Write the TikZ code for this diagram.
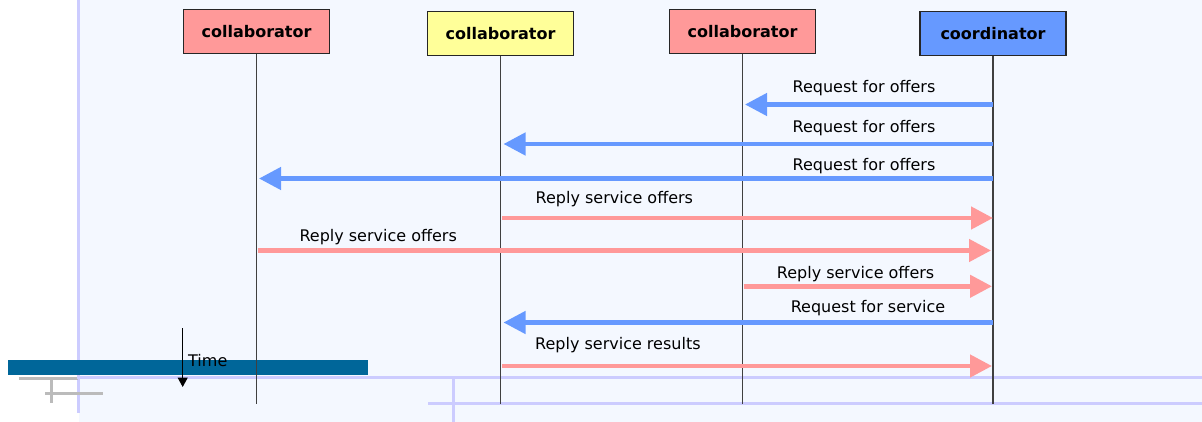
\documentclass[tikz,border=0pt]{standalone}
\usepackage{fontspec}
\setmainfont{DejaVu Sans}
\usepackage{tikz}
\usetikzlibrary{arrows.meta}
\usepackage{xcolor}
\definecolor{rouge}{HTML}{FF9999}
\definecolor{jaune}{HTML}{FFFF99}
\definecolor{bleu}{HTML}{6699FF}
\definecolor{fond}{HTML}{F4F8FF}
\definecolor{lavande}{HTML}{CCCCFF}
\definecolor{barre}{HTML}{006699}
\definecolor{gris}{HTML}{BBBBBB}

\begin{document}
\begin{tikzpicture}[x=1pt,y=-1pt,
		acteur/.style={draw=black!85,line width=1.3pt,minimum width=146pt,minimum height=44pt,inner sep=0pt,font=\fontsize{16}{19}\selectfont\bfseries},
		msg/.style={inner sep=0pt,font=\fontsize{16}{19}\selectfont},
		ligne/.style={black!75,line width=1.2pt},
		demande/.style={bleu,line width=4.5pt,-{Triangle[length=22pt,width=22pt]}},
		reponse/.style={rouge,line width=4.5pt,-{Triangle[length=22pt,width=22pt]}}]
			\useasboundingbox (0,0) rectangle (1202,422);
			\fill[fond] (79,0) rectangle (1202,422);
			\draw[lavande,line width=3pt] (78.5,0) -- (78.5,413);
			\draw[gris,line width=3pt] (18.7,378) -- (78,378);
			\draw[gris,line width=3pt] (45,393.3) -- (103,393.3);
			\draw[gris,line width=3pt] (51.7,378) -- (51.7,403);
			\draw[lavande,line width=3pt] (77,377) -- (1202,377);
			\draw[lavande,line width=3pt] (428,403) -- (1202,403);
			\draw[lavande,line width=3pt] (453,377) -- (453,422);
			\fill[barre] (8,360) rectangle (368,375);
			\node[acteur,fill=rouge] (c1) at (256.5,31.3) {collaborator};
			\node[acteur,fill=jaune] (c2) at (500.5,33.5) {collaborator};
			\node[acteur,fill=rouge] (c3) at (742.5,31.3) {collaborator};
			\node[acteur,fill=bleu] (c4) at (993,33.5) {coordinator};
			\coordinate (e1) at (256.5,404);
			\coordinate (e2) at (500.5,404);
			\coordinate (e3) at (742.5,404);
			\coordinate (e4) at (993,404);
			\foreach \Ligne in {1,2,3,4}
			\draw[ligne] (c\Ligne.south) -- (e\Ligne);
			\coordinate (a1) at (993,104.5);
			\coordinate (b1) at (745,104.5);
			\coordinate (a2) at (993,144);
			\coordinate (b2) at (503.5,144);
			\coordinate (a3) at (993,178.5);
			\coordinate (b3) at (259,178.5);
			\coordinate (a4) at (502,218);
			\coordinate (b4) at (993,218);
			\coordinate (a5) at (257.5,250.5);
			\coordinate (b5) at (991,250.5);
			\coordinate (a6) at (743.5,286.3);
			\coordinate (b6) at (992,286.3);
			\coordinate (a7) at (993,322.5);
			\coordinate (b7) at (503.5,322.5);
			\coordinate (a8) at (502,366);
			\coordinate (b8) at (992,366);
			\foreach \Ligne in {1,2,3,7}
			\draw[demande] (a\Ligne) -- (b\Ligne);
			\foreach \Ligne in {4,5,6,8}
			\draw[reponse] (a\Ligne) -- (b\Ligne);
			\node[msg,anchor=base] (t1) at (864,92.3) {Request for offers};
			\node[msg,anchor=base] (t2) at (864,132.7) {Request for offers};
			\node[msg,anchor=base] (t3) at (864,170.7) {Request for offers};
			\node[msg,anchor=base west] (t4) at (535.5,204) {Reply service offers};
			\node[msg,anchor=base west] (t5) at (299.3,241.7) {Reply service offers};
			\node[msg,anchor=base west] (t6) at (776.7,278.3) {Reply service offers};
			\node[msg,anchor=base] (t7) at (868,312.7) {Request for service};
			\node[msg,anchor=base west] (t8) at (535,349.3) {Reply service results};
			\coordinate (h1) at (182.7,328);
			\coordinate (h2) at (182.7,387);
			\draw[line width=1.3pt,-{Triangle[length=9.5pt,width=10pt]}] (h1) -- (h2);
			\node[msg,anchor=base west] (temps) at (188,366) {Time};
		\end{tikzpicture}
\end{document}
